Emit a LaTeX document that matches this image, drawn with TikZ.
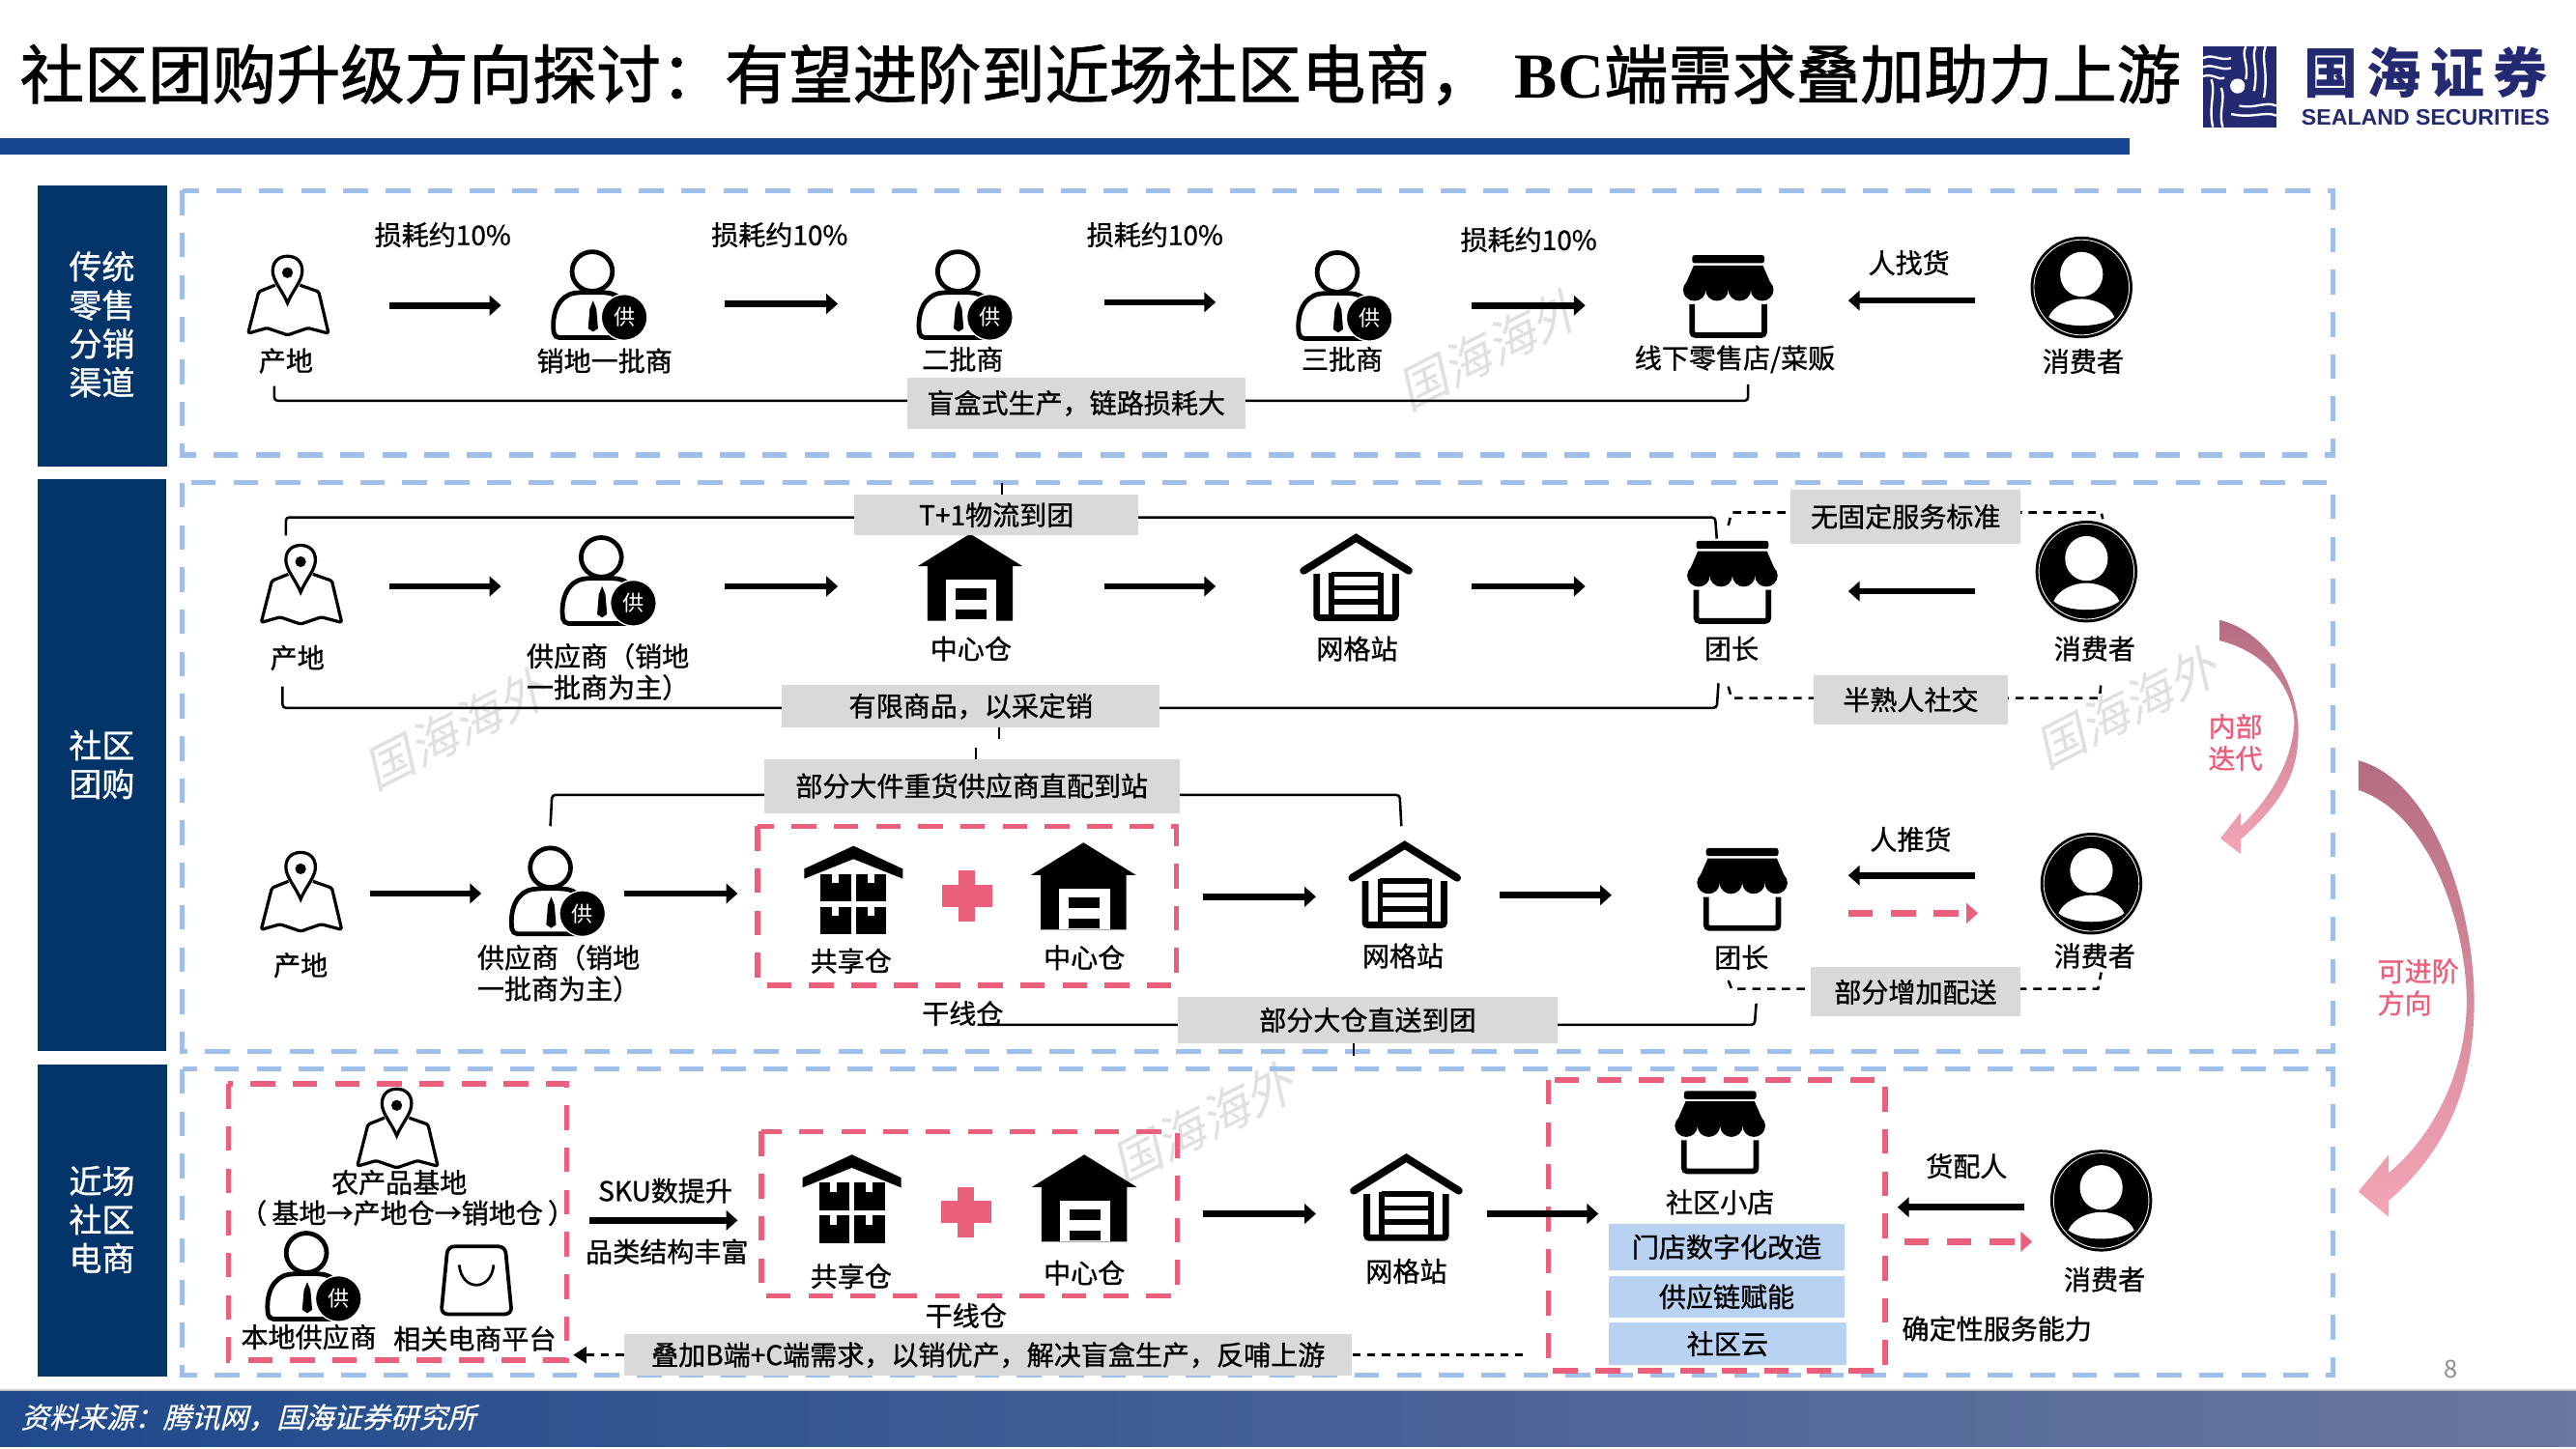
\documentclass[tikz,border=0pt]{standalone}
\usepackage{fontspec}
\usetikzlibrary{arrows.meta}
\setmainfont{Noto Sans CJK SC}
\newfontfamily\labfont{Noto Sans CJK SC}[FakeBold=1.0]
\newfontfamily\slantfont{Noto Sans CJK SC}[FakeSlant=0.25]
\newfontfamily\footfont{Noto Sans CJK SC}[FakeSlant=0.25,FakeBold=0.6]
\newfontfamily\titlefont{Noto Sans CJK SC}[FakeBold=1.4]
\newfontfamily\serifbold{Liberation Serif}
\newfontfamily\latinbold{Liberation Sans}
\definecolor{navy}{HTML}{03356B}
\definecolor{boxblue}{HTML}{9FBFEA}
\definecolor{redd}{HTML}{EC5F7C}
\definecolor{grayl}{HTML}{D9D9D9}
\definecolor{paleblue}{HTML}{B9D2F2}
\definecolor{logoblue}{HTML}{232A72}
\definecolor{barblue}{HTML}{17458F}
\definecolor{arrowdark}{HTML}{B56C80}
\definecolor{arrowpale}{HTML}{F4A6B6}
\definecolor{foota}{HTML}{1F4A8C}
\definecolor{footb}{HTML}{6A77A0}
\tikzset{
  lab/.style={font=\labfont\fontsize{16.5pt}{19pt}\selectfont,inner sep=0pt,align=center,text=black},
  side/.style={font=\labfont\fontsize{20pt}{23.5pt}\selectfont,inner sep=0pt,align=center,text=white},
  graybox/.style={lab,fill=grayl},
  palebox/.style={lab,fill=paleblue},
  redlab/.style={font=\labfont\fontsize{16.5pt}{19.5pt}\selectfont,inner sep=0pt,align=left,text=redd},
  water/.style={font=\slantfont\fontsize{30pt}{31pt}\selectfont,text=black!12,inner sep=0pt,rotate=27},
  flow/.style={line width=3.9pt,draw=black,-{Triangle[length=7pt,width=12pt]}},
  pinkflow/.style={line width=3.9pt,draw=redd,dash pattern=on 15pt off 11pt,-{Triangle[length=7pt,width=12pt]}},
  brk/.style={line width=1.5pt,draw=black,rounded corners=2pt},
  dashbrk/.style={line width=1.5pt,draw=black,dash pattern=on 5pt off 4pt},
  dashback/.style={line width=1.5pt,draw=black,dash pattern=on 5pt off 4pt,-{Triangle[length=8pt,width=10pt]}},
  bluedash/.style={line width=3pt,draw=boxblue,dash pattern=on 15pt off 10.7pt},
  reddash/.style={line width=3.2pt,draw=redd,dash pattern=on 15pt off 10.7pt},
  iconbox/.style={inner sep=0pt,minimum width=50pt,minimum height=50pt},
  mapicon/.pic={
    \draw[line width=1.9pt,line join=round,fill=white,rounded corners=1pt] (-7.5,-6.4) -- (-17.5,-2.4) -- (-24,23) -- (-12.5,19.7) -- (0,24) -- (12.5,19.7) -- (25,23) -- (19,-2.4) -- (7.5,-6.4);
    \draw[line width=1.9pt,fill=white] (0,4.5) .. controls (-3,-3) and (-9,-9) .. (-9,-15) .. controls (-9,-21) and (-5,-24) .. (0,-24) .. controls (5,-24) and (9,-21) .. (9,-15) .. controls (9,-9) and (3,-3) .. (0,4.5) -- cycle;
    \fill (0,-14) circle (3.3);
  },
  supicon/.pic={
    \draw[line width=2.8pt,fill=white,rounded corners=3pt] (-27,25.6) .. controls (-29,10) and (-24,0) .. (-12,-2) -- (4,-2) .. controls (14,0) and (18,8) .. (19,14) -- (19,25.6) -- cycle;
    \fill (-3.5,3) -- (-1.5,8) -- (-0.5,20) -- (-3.5,22) -- (-6.5,20) -- (-5.5,8) -- cycle;
    \draw[line width=2.8pt,fill=white] (-4,-14.7) ellipse [x radius=12.3,y radius=12];
    \draw[white,fill=black,line width=.8pt] (15.5,13.2) circle (14);
    \node[font=\fontsize{13pt}{14pt}\selectfont,text=white,inner sep=0pt] at (15.5,13.2) {供};
  },
  storeicon/.pic={
    \fill[rounded corners=1.5pt] (-22,-25.2) rectangle (22,-20.3);
    \fill (-21,-18.9) -- (21,-18.9) -- (27.5,-4) -- (-27.5,-4) -- cycle;
    \foreach \c in {-20.6,-6.9,6.9,20.6}{\fill (\c,-4) ellipse [x radius=6.9,y radius=6.7];}
    \draw[line width=3.4pt,rounded corners=2pt] (-22,4.7) -- (-22,23.6) -- (22,23.6) -- (22,4.7);
  },
  usericon/.pic={
    \fill (0,0) circle (31);
    \draw[white,line width=.5pt] (0,0) circle (29);
    \fill[white] (0,-8) ellipse [x radius=13,y radius=13.6];
    \fill[white] (-20,18) .. controls (-17,11) and (-8,7) .. (0,7) .. controls (8,7) and (17,11) .. (20,18) .. controls (12,25) and (-12,25) .. (-20,18) -- cycle;
  },
  hubicon/.pic={
    \fill (0,-27) -- (32,-7.2) -- (26,-7.2) -- (26,26) -- (-26,26) -- (-26,-7.2) -- (-32,-7.2) -- cycle;
    \fill[white] (-15,1) rectangle (16,26);
    \fill (-9,6.3) rectangle (10,13.1);
    \fill (-9,19.2) rectangle (10,25);
  },
  gridicon/.pic={
    \draw[line width=4.6pt,line cap=round,line join=miter] (-32,-5) -- (0,-25) -- (32,-5);
    \draw[line width=4pt,rounded corners=1.5pt] (-24,-3) -- (-24,23.6) -- (24,23.6) -- (24,-3);
    \draw[line width=3.2pt] (-15,-4) -- (-15,22) (15,-4) -- (15,22) (-15,-3) -- (15,-3) (-15,5.5) -- (15,5.5) (-15,14) -- (15,14);
  },
  shareicon/.pic={
    \fill (0,-27) -- (30,-13) -- (30,-7) -- (0,-19) -- (-30,-7) -- (-30,-13) -- cycle;
    \foreach \x/\y in {-20/-10,1.5/-10,-20/10,1.5/10}{
      \fill (\x,\y) rectangle ++(18.5,16.8);
      \fill[white] (\x+7,\y) rectangle ++(4,5.5);
    }
  },
  bagicon/.pic={
    \draw[line width=2.2pt,rounded corners=4pt] (-17.5,-20.6) -- (17.5,-20.6) -- (21.5,20.6) -- (-21.5,20.6) -- cycle;
    \draw[line width=1.6pt] (-10.5,-9.4) .. controls (-9,7) and (9,7) .. (10.5,-9.4);
  },
  plusicon/.pic={
    \fill[redd] (-5,-15.3) rectangle (5,15.3);
    \fill[redd] (-15.3,-6.8) rectangle (15.3,6.8);
  },
}
\newcommand\icon[4]{\node[iconbox] (#1) at (#3,#4) {}; \pic at (#3,#4) {#2};}
% a connector between two named coordinates
\newcommand\flowto[6]{\coordinate (#1a) at (#3,#4); \coordinate (#1b) at (#5,#6); \draw[#2] (#1a) -- (#1b);}
% a bracket over four named coordinates
\newcommand\bracket[6]{\coordinate (#1a) at (#3); \coordinate (#1b) at (#4); \coordinate (#1c) at (#5); \coordinate (#1d) at (#6); \draw[#2] (#1a) -- (#1b) -- (#1c) -- (#1d);}
\begin{document}
\begin{tikzpicture}[x=1pt,y=-1pt]
\useasboundingbox (0,0) rectangle (1568,882.2);
\fill[white] (0,0) rectangle (1568,882.2);
% header
\node[anchor=west,inner sep=0pt,font=\titlefont\fontsize{39pt}{42pt}\selectfont] (title) at (12,45.5) {社区团购升级方向探讨：有望进阶到近场社区电商，\hspace{13pt}{\serifbold\bfseries BC}端需求叠加助力上游};
\fill[barblue] (0,84.3) rectangle (1296,94);
% logo
\begin{scope}[shift={(1341,28.4)}]
  \fill[logoblue] (0,0) rectangle (44.5,49);
  \begin{scope}[line width=1.4pt,draw=white]
    \draw[white] (0,7) .. controls (6,4) and (10,9) .. (17,7) (0,12.5) .. controls (6,10) and (11,15) .. (17,13) (0,18) .. controls (6,16) and (10,21) .. (13,19);
    \draw[white] (26,0) .. controls (23,6) and (28,10) .. (26,20) (32,0) .. controls (29,7) and (34,12) .. (31,27) (38,0) .. controls (35,8) and (40,14) .. (37,31);
    \draw[white] (44.5,36) .. controls (38,33) and (32,38) .. (22,36) (44.5,42) .. controls (38,39) and (30,44) .. (17,41);
    \draw[white] (5,20) .. controls (8,28) and (3,36) .. (6,49) (11,25) .. controls (14,32) and (9,40) .. (12,49);
  \end{scope}
  \fill[white] (21,24) circle (4.5);
\end{scope}
\node[inner sep=0pt,text=logoblue,font=\bfseries\fontsize{33pt}{34pt}\selectfont] (logocn) at (1476.5,44) {国\hspace{5.5pt}海\hspace{5.5pt}证\hspace{5.5pt}券};
\node[inner sep=0pt,text=logoblue,font=\latinbold\bfseries\fontsize{13.6pt}{15pt}\selectfont] (logoen) at (1476.5,71.5) {SEALAND SECURITIES};
% watermarks
\node[water] (w1) at (906,213) {国海海外};
\node[water] (w2) at (277,444) {国海海外};
\node[water] (w3) at (1294,431) {国海海外};
\node[water] (w4) at (732,684) {国海海外};
% side blocks
\fill[navy] (23,113) rectangle (102,284);
\fill[navy] (23,292) rectangle (101,640);
\fill[navy] (23,648) rectangle (102,838);
\node[side] (s1) at (62,197.5) {传统\\零售\\分销\\渠道};
\node[side] (s2) at (62,465.5) {社区\\团购};
\node[side] (s3) at (62,742.5) {近场\\社区\\电商};
% outer dashed panels
\draw[bluedash] (111,116) rectangle (1420,277);
\draw[bluedash] (111,294) rectangle (1420,640);
\draw[bluedash] (111,651) rectangle (1420,837);
% red dashed groups
\draw[reddash] (461,503) rectangle (716,600);
\draw[reddash] (139,660) rectangle (345,828);
\draw[reddash] (463.5,689) rectangle (716.5,789);
\draw[reddash] (942.5,657.5) rectangle (1147.5,834.5);
% curved arrows
\shade[top color=arrowdark,middle color=arrowpale,bottom color=arrowpale] (1351,377.5) .. controls (1382,385) and (1399,420) .. (1399,445) .. controls (1399,470) and (1390,488) .. (1364,511) -- (1364,520) -- (1351.5,510.5) -- (1364,494.5) -- (1364,503) .. controls (1383,485) and (1395.5,462) .. (1396.5,440) .. controls (1396,420) and (1380,397) .. (1351,390) -- cycle;
\shade[top color=arrowdark,middle color=arrowpale,bottom color=arrowpale] (1435.5,463) .. controls (1480,475) and (1506,550) .. (1506,610) .. controls (1506,660) and (1490,700) .. (1454,731) -- (1454,741) -- (1435.5,725.5) -- (1454,703) -- (1454,714) .. controls (1483,690) and (1501,650) .. (1501.5,610) .. controls (1501,560) and (1478,495) .. (1435.5,481) -- cycle;
\node[redlab,anchor=west] (it1) at (1344,452) {内部\\迭代};
\node[redlab,anchor=west] (it2) at (1447,601) {可进阶\\方向};
% row 1
\icon{r1map}{mapicon}{175}{180}
\icon{r1s1}{supicon}{364.5}{180}
\icon{r1s2}{supicon}{587}{180}
\icon{r1s3}{supicon}{818}{180.5}
\icon{r1st}{storeicon}{1052}{180.5}
\icon{r1u}{usericon}{1267}{175}
\node[lab] (t11) at (174,219.7) {产地};
\node[lab] (t12) at (368,219.7) {销地一批商};
\node[lab] (t13) at (586,218.7) {二批商};
\node[lab] (t14) at (817,218.7) {三批商};
\node[lab] (t15) at (1056,218.7) {线下零售店/菜贩};
\node[lab] (t16) at (1268,220) {消费者};
\node[lab] (l11) at (269.5,143) {损耗约10\%};
\node[lab] (l12) at (474.5,143) {损耗约10\%};
\node[lab] (l13) at (703,143) {损耗约10\%};
\node[lab] (l14) at (930.5,146) {损耗约10\%};
\node[lab] (l15) at (1162,160) {人找货};
\flowto{f11}{flow}{237}{186}{305}{186}
\flowto{f12}{flow}{441}{185}{510}{185}
\flowto{f13}{flow}{672}{184}{740}{184}
\flowto{f14}{flow}{896}{186}{965}{186}
\flowto{f15}{flow}{1202}{183}{1125}{183}
\bracket{b1}{brk}{167,235}{167,244}{1064,244}{1064,234}
\node[graybox,minimum width=206pt,minimum height=31pt] (g1) at (655,245.5) {盲盒式生产，链路损耗大};
% row 2
\icon{r2map}{mapicon}{183}{356}
\icon{r2s}{supicon}{370}{354}
\icon{r2h}{hubicon}{590.5}{352}
\icon{r2g}{gridicon}{825.5}{352.5}
\icon{r2st}{storeicon}{1054.5}{354.5}
\icon{r2u}{usericon}{1270}{348}
\node[lab] (t21) at (181,400.5) {产地};
\node[lab] (t22) at (370,409) {供应商（销地\\一批商为主）};
\node[lab] (t23) at (591,395) {中心仓};
\node[lab] (t24) at (826,395) {网格站};
\node[lab] (t25) at (1054,395) {团长};
\node[lab] (t26) at (1275,395) {消费者};
\flowto{f21}{flow}{237}{357}{305}{357}
\flowto{f22}{flow}{441}{357}{510}{357}
\flowto{f23}{flow}{672}{357}{740}{357}
\flowto{f24}{flow}{896}{357}{965}{357}
\flowto{f25}{flow}{1202}{360}{1125}{360}
\bracket{b2}{brk}{174,326}{174,315}{1044,315}{1045,328}
\bracket{b3}{dashbrk}{1052,320}{1054,312}{1279,312}{1280,316}
\bracket{b4}{brk}{172,418}{172,431}{1045,431}{1046,416}
\bracket{b5}{dashbrk}{1052,418}{1054,425}{1278,425}{1279,415}
\bracket{b6}{brk}{335,503}{336,484}{852,484}{853,503}
\flowto{t1}{line width=1pt}{610}{294}{610}{301}
\flowto{t2}{line width=1pt}{608}{443}{608}{450}
\flowto{t3}{line width=1pt}{594}{455}{594}{462}
\node[graybox,minimum width=173pt,minimum height=25pt] (g2) at (606.5,313.5) {\raisebox{1pt}{T+1物流到团}};
\node[graybox,minimum width=140pt,minimum height=33pt] (g3) at (1160,314.5) {无固定服务标准};
\node[graybox,minimum width=230pt,minimum height=26pt] (g4) at (591,430) {有限商品，以采定销};
\node[graybox,minimum width=118pt,minimum height=30pt] (g5) at (1163,426) {半熟人社交};
\node[graybox,minimum width=253pt,minimum height=33pt] (g6) at (591.5,478.5) {部分大件重货供应商直配到站};
% row 3
\icon{r3map}{mapicon}{183}{543}
\icon{r3s}{supicon}{339}{543}
\icon{r3sh}{shareicon}{519.5}{542}
\pic at (588.5,545.5) {plusicon};
\icon{r3h}{hubicon}{659.5}{540}
\icon{r3g}{gridicon}{855}{539.5}
\icon{r3st}{storeicon}{1060.5}{541.5}
\icon{r3u}{usericon}{1273}{538}
\node[lab] (t31) at (183,587.7) {产地};
\node[lab] (t32) at (340,592.5) {供应商（销地\\一批商为主）};
\node[lab] (t33) at (518,585) {共享仓};
\node[lab] (t34) at (660,583) {中心仓};
\node[lab] (t35) at (854,582) {网格站};
\node[lab] (t36) at (1060,583) {团长};
\node[lab] (t37) at (1275,582) {消费者};
\node[lab] (t38) at (586,617) {干线仓};
\node[lab] (l31) at (1163,511) {人推货};
\flowto{f31}{flow}{225}{544}{293}{544}
\flowto{f32}{flow}{380}{544}{449}{544}
\flowto{f33}{flow}{732}{546}{801}{546}
\flowto{f34}{flow}{913}{545}{981}{545}
\flowto{f35}{flow}{1202}{533}{1125}{533}
\flowto{f36}{pinkflow}{1125}{556}{1204}{556}
\bracket{b7}{brk}{595,624}{700,624}{1068,624}{1069,611}
\bracket{b8}{dashbrk}{1052,597}{1054,602}{1277,602}{1279,592}
\flowto{t4}{line width=1pt}{824}{635}{824}{643}
\node[graybox,minimum width=231pt,minimum height=28pt] (g7) at (832.5,621) {部分大仓直送到团};
\node[graybox,minimum width=128pt,minimum height=30pt] (g8) at (1166,604) {部分增加配送};
% row 4
\icon{r4map}{mapicon}{241.5}{687}
\icon{r4s}{supicon}{190.5}{777.5}
\icon{r4b}{bagicon}{290}{779.5}
\icon{r4sh}{shareicon}{518.5}{730}
\pic at (588,738) {plusicon};
\icon{r4h}{hubicon}{660}{730}
\icon{r4g}{gridicon}{856}{730}
\icon{r4st}{storeicon}{1047}{689.5}
\icon{r4u}{usericon}{1279}{731}
\node[lab] (t41) at (243,720) {农产品基地};
\node[lab] (t42) at (248,738.5) {（\hspace{3pt}基地→产地仓→销地仓\hspace{3pt}）};
\node[lab] (t43) at (188,814) {本地供应商};
\node[lab] (t44) at (289,815) {相关电商平台};
\node[lab] (t45) at (405,725) {SKU数提升};
\node[lab] (t46) at (406,762) {品类结构丰富};
\node[lab] (t47) at (518,777) {共享仓};
\node[lab] (t48) at (660,775) {中心仓};
\node[lab] (t49) at (588,801) {干线仓};
\node[lab] (t410) at (856,774) {网格站};
\node[lab] (t411) at (1047,732) {社区小店};
\node[lab] (t412) at (1197,710) {货配人};
\node[lab] (t413) at (1281,779) {消费者};
\node[lab] (t414) at (1215.5,809) {确定性服务能力};
\node[palebox,minimum width=144pt,minimum height=28.5pt] (p1) at (1051,759.2) {门店数字化改造};
\node[palebox,minimum width=144pt,minimum height=25pt] (p2) at (1051,789.5) {供应链赋能};
\node[palebox,minimum width=145pt,minimum height=25.5pt] (p3) at (1051.5,818.2) {社区云};
\flowto{f41}{flow}{359}{743}{449}{743}
\flowto{f42}{flow}{732}{739}{801}{739}
\flowto{f43}{flow}{905}{739}{973}{739}
\flowto{f44}{flow}{1232}{735}{1155}{735}
\flowto{f45}{pinkflow}{1159}{756}{1237}{756}
\node[graybox,minimum width=443pt,minimum height=25pt] (g9) at (601.5,825) {叠加B端+C端需求，以销优产，解决盲盒生产，反哺上游};
\coordinate (d1) at (349,825);
\coordinate (d2) at (930,825);
\draw[dashback] (g9.west) -- (d1);
\draw[dashbrk] (g9.east) -- (d2);
% footer
\shade[top color=white,bottom color=gray] (0,845) rectangle (1568,847.5);
\shade[left color=foota,right color=footb] (0,847.5) rectangle (1568,881);
\node[anchor=west,inner sep=0pt,text=white,font=\footfont\fontsize{17.3pt}{19pt}\selectfont] (src) at (12.5,863) {资料来源：腾讯网，国海证券研究所};
\node[inner sep=0pt,text=black!45,font=\fontsize{15pt}{16pt}\selectfont] (pg) at (1492,833.5) {8};
\end{tikzpicture}
\end{document}
